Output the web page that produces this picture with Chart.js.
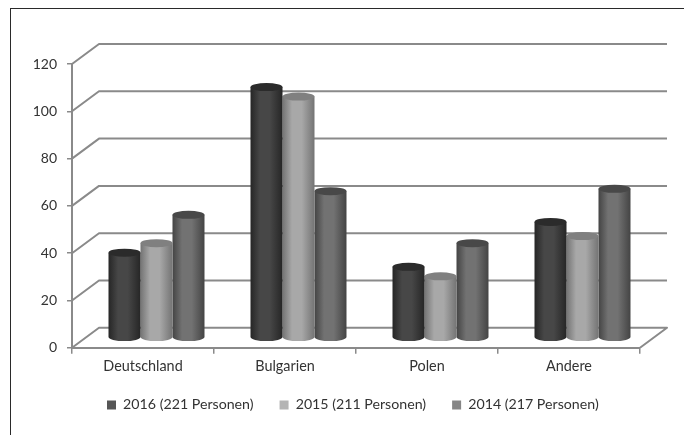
<!DOCTYPE html>
<html><head><meta charset="utf-8">
<style>
html,body{margin:0;padding:0;background:#fff}
#wrap{position:relative;width:684px;height:435px;overflow:hidden;background:#fff}
#frame{position:absolute;left:10px;top:8px;width:700px;height:440px;border:1.5px solid #2a2a2a;box-sizing:border-box}
canvas{position:absolute;left:0;top:0;filter:blur(0.45px)}
</style>
<script src="https://cdn.jsdelivr.net/npm/chart.js@4"></script>
</head><body>
<div id="wrap"><div id="frame"></div><canvas id="c" width="684" height="435"></canvas></div>
<script>
const categories = ["Deutschland","Bulgarien","Polen","Andere"];
const seriesNames = ["2016 (221 Personen)","2015 (211 Personen)","2014 (217 Personen)"];
const values2016 = [36,106,30,49];
const values2015 = [40,102,26,43];
const values2014 = [52,62,40,63];
const legendColors = ["#565656","#b4b4b4","#858585"];
const edgeColors = ["#262626","#747474","#444444"];
const midColors = ["#474747","#a8a8a8","#727272"];
const capColors = ["#2b2b2b","#808080","#484848"];
const DEPTH_X = 27, DEPTH_Y = 20, RY = 4, GRID = "#8a8a8a";

const cyl = {
  id:"cyl",
  afterLayout(chart){
    chart.scales.x.bottom += 10;
    chart.legend.left = 81;
  },
  afterDatasetsUpdate(chart){
    const c = chart.ctx;
    chart.data.datasets.forEach((d,i)=>{
      chart.getDatasetMeta(i).data.forEach(el=>{
        const g = c.createLinearGradient(el.x-el.width/2,0,el.x+el.width/2,0);
        g.addColorStop(0,edgeColors[i]);
        g.addColorStop(0.3,midColors[i]);
        g.addColorStop(0.6,midColors[i]);
        g.addColorStop(1,edgeColors[i]);
        el.options.backgroundColor = g;
      });
    });
  },
  beforeDatasetsDraw(chart){
    const c = chart.ctx, a = chart.chartArea, y = chart.scales.y;
    c.save();
    c.strokeStyle = GRID; c.lineWidth = 2; c.lineJoin = "round";
    y.ticks.forEach(t=>{
      const p = y.getPixelForValue(t.value);
      c.beginPath();
      c.moveTo(a.left,p);
      c.lineTo(a.left+DEPTH_X,p-DEPTH_Y);
      c.lineTo(a.right+DEPTH_X,p-DEPTH_Y);
      if(t.value===0){ c.lineTo(a.right,p); }
      c.stroke();
    });
    c.restore();
    c.save();
    c.translate(DEPTH_X/2,-DEPTH_Y/2);
  },
  afterDatasetDraw(chart,args){
    const c = chart.ctx, i = args.index;
    chart.getDatasetMeta(i).data.forEach(el=>{
      const rx = el.width/2;
      c.fillStyle = el.options.backgroundColor;
      c.beginPath(); c.ellipse(el.x,el.base,rx,RY,0,0,Math.PI); c.fill();
      c.fillStyle = capColors[i];
      c.beginPath(); c.ellipse(el.x,el.y,rx,RY,0,0,Math.PI*2); c.fill();
    });
  },
  afterDatasetsDraw(chart){ chart.ctx.restore(); }
};

const mk = (i,vals)=>({label:seriesNames[i],data:vals,backgroundColor:()=>legendColors[i],
  borderWidth:0,clip:false,categoryPercentage:0.676,barPercentage:1});

new Chart(document.getElementById("c"),{
  type:"bar",
  data:{labels:categories,datasets:[mk(0,values2016),mk(1,values2015),mk(2,values2014)]},
  plugins:[cyl],
  options:{
    responsive:false,animation:false,devicePixelRatio:1,
    layout:{padding:{left:0,right:44,top:64,bottom:13}},
    plugins:{
      tooltip:{enabled:false},
      legend:{position:"bottom",align:"start",
        labels:{boxWidth:9,boxHeight:9,padding:26,color:"#333",font:{family:"Lato",size:14.2},
          generateLabels(chart){return seriesNames.map((n,i)=>({text:n,fillStyle:legendColors[i],strokeStyle:legendColors[i],lineWidth:0,datasetIndex:i,fontColor:"#333"}));}}
      }
    },
    scales:{
      x:{offset:true,afterFit(s){s.height=24;},
        grid:{drawOnChartArea:false,color:GRID,lineWidth:1.5,tickLength:6},
        border:{color:GRID,width:2},
        ticks:{color:"#333",padding:4,font:{family:"Lato",size:14.4},maxRotation:0}},
      y:{min:0,max:120,afterFit(s){s.width=72;},
        grid:{drawOnChartArea:false,color:GRID,lineWidth:1.5,tickLength:5},
        border:{color:GRID,width:2},
        ticks:{stepSize:20,color:"#333",padding:10,font:{family:"Lato",size:14}}}
    }
  }
});
</script>
</body></html>
